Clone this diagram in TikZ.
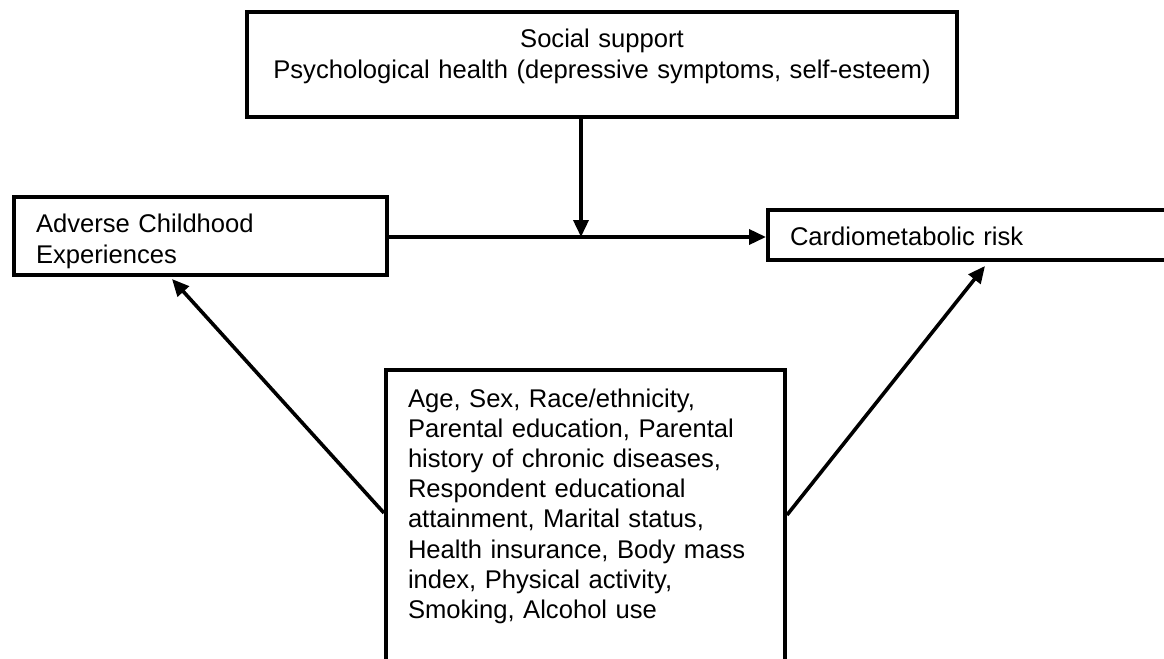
\documentclass[tikz,border=0pt]{standalone}
\usepackage{fontspec}
\setmainfont{Liberation Sans}
\usetikzlibrary{arrows.meta}

\begin{document}
\begin{tikzpicture}[x=0.5pt, y=-0.5pt,
	box/.style={rectangle, draw, line width=2pt, anchor=north west, inner xsep=11pt, inner ysep=0pt,
		align=left, text height=17.5pt, font=\fontsize{12.8}{15.75}\selectfont},
	link/.style={-{Triangle[length=8.5pt, width=7.5pt]}, line width=1.8pt}]
	\clip (0,0) rectangle (1164,659);
	\node[box, align=center, text width=333pt, text depth=35pt] (social) at (245,10)
		{Social support\\Psychological health (depressive symptoms, self-esteem)};
	\node[box, text width=164.5pt, text depth=21.5pt] (ace) at (12,195) {Adverse Childhood\\Experiences};
	\node[box, text width=185pt, text depth=7.5pt] (cmr) at (766,208) {Cardiometabolic risk};
	\node[box, text width=177.5pt, text height=18.5pt, text depth=147.5pt,
		font=\fontsize{12.8}{15.1}\selectfont] (covar) at (384,368)
		{Age, Sex, Race/ethnicity,\\Parental education, Parental\\history of chronic diseases,\\Respondent educational\\attainment, Marital status,\\Health insurance, Body mass\\index, Physical activity,\\Smoking, Alcohol use};
	\coordinate (mid) at (581,237);
	\draw[link] (ace.east |- mid) -- (cmr.west |- mid);
	\draw[link] (social.south -| mid) -- (mid);
	\draw[link] ([yshift=-72.5pt]covar.north west) -- ([xshift=80pt, yshift=-1pt]ace.south west);
	\draw[link] ([yshift=-73.5pt]covar.north east) -- ([xshift=109.5pt, yshift=-2pt]cmr.south west);
\end{tikzpicture}
\end{document}
